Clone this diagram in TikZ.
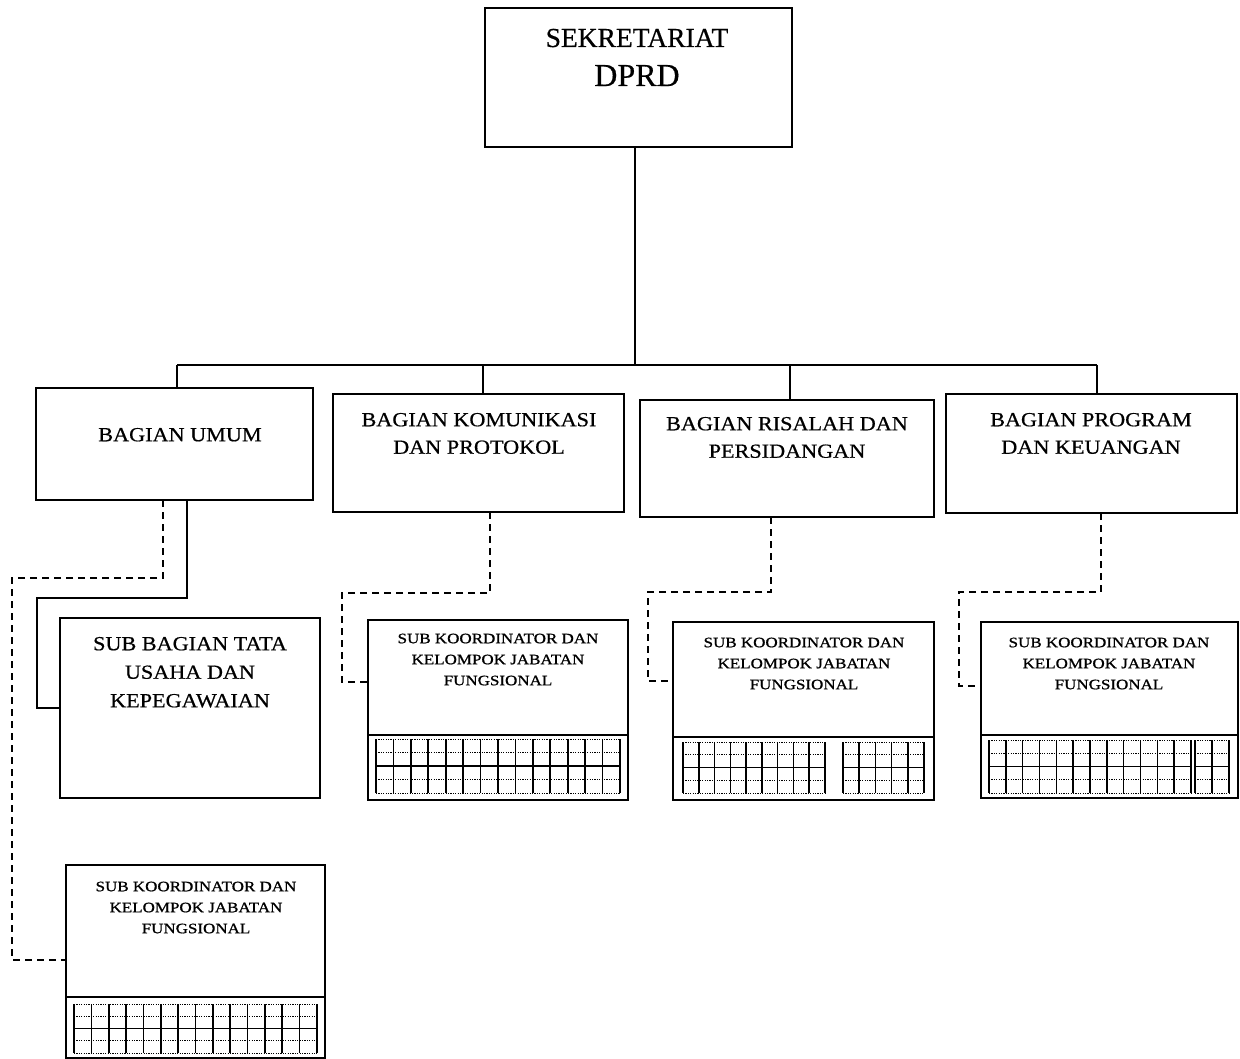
\documentclass[tikz,border=0pt]{standalone}
\usepackage{fontspec}
\setmainfont{Liberation Serif}
\newfontfamily\tfont[FakeBold=0.5]{Liberation Serif}
\newfontfamily\bfont[FakeStretch=1.11,FakeBold=0.6]{Liberation Serif}
\newfontfamily\kfont[FakeStretch=1.18,FakeBold=0.9]{Liberation Serif}
\usetikzlibrary{calc}
\newcommand{\kgrid}[5]{%
  \draw[gridh] (#1,#2) -- (#3,#2);
  \draw[gridh] (#1,#4) -- (#3,#4);
  \draw[gridh] (#1,{#2+0.25*(#4-#2)}) -- (#3,{#2+0.25*(#4-#2)});
  \draw[gridm] (#1,{#2+0.5*(#4-#2)}) -- (#3,{#2+0.5*(#4-#2)});
  \draw[gridh] (#1,{#2+0.75*(#4-#2)}) -- (#3,{#2+0.75*(#4-#2)});
  \foreach \i in {0,...,#5}{\draw[gridv] ({#1+\i*(#3-#1)/#5},#2) -- ({#1+\i*(#3-#1)/#5},#4);}
}
\tikzset{
  box/.style={draw, rectangle, line width=1.8pt, inner sep=0pt, outer sep=0pt},
  conn/.style={line width=1.5pt},
  dsh/.style={line width=1.6pt, dash pattern=on 7pt off 5pt},
  gridh/.style={line width=0.9pt, dash pattern=on 1.2pt off 1.2pt},
  gridm/.style={line width=1.2pt},
  gridv/.style={line width=1.6pt},
  btext/.style={font=\bfont\fontsize{20}{27.5}\selectfont, align=center, inner sep=0pt, anchor=north},
  stext/.style={font=\bfont\fontsize{20}{28.5}\selectfont, align=center, inner sep=0pt, anchor=north},
  ktext/.style={font=\kfont\fontsize{14.4}{21}\selectfont, align=center, inner sep=0pt, anchor=north},
}
\begin{document}
\begin{tikzpicture}[x=1pt,y=-1pt]
\useasboundingbox (0,0) rectangle (1240,1059);
\fill[white] (0,0) rectangle (1240,1059);

% top box
\node[box, minimum width=307pt, minimum height=139pt] (T) at (638.5,77.5) {};
\node[anchor=base, inner sep=0pt, font=\tfont\fontsize{27.5}{30}\selectfont] (Tt1) at (637,47) {SEKRETARIAT};
\node[anchor=base, inner sep=0pt, font=\tfont\fontsize{32}{34}\selectfont] (Tt2) at (637,86) {DPRD};

% second level boxes
\node[box, minimum width=277pt, minimum height=112pt] (b1) at (174.5,444) {};
\node[box, minimum width=291pt, minimum height=118pt] (b2) at (478.5,453) {};
\node[box, minimum width=294pt, minimum height=117pt] (b3) at (787,458.5) {};
\node[box, minimum width=291pt, minimum height=119pt] (b4) at (1091.5,453.5) {};
\node[btext] (b1t) at (180,427.8) {BAGIAN UMUM};
\node[btext] (b2t) at (479,412.8) {BAGIAN KOMUNIKASI\\DAN PROTOKOL};
\node[btext] (b3t) at (787,416.8) {BAGIAN RISALAH DAN\\PERSIDANGAN};
\node[btext] (b4t) at (1091,412.8) {BAGIAN PROGRAM\\DAN KEUANGAN};

% tree connectors
\coordinate (j0) at (635,365);
\coordinate (j1) at (177,365);
\coordinate (j2) at (483,365);
\coordinate (j3) at (790,365);
\coordinate (j4) at (1097,365);
\draw[conn] (T.south -| j0) -- (j0);
\draw[conn] (j1) -- (j4);
\draw[conn] (j1) -- (j1 |- b1.north);
\draw[conn] (j2) -- (j2 |- b2.north);
\draw[conn] (j3) -- (j3 |- b3.north);
\draw[conn] (j4) -- (j4 |- b4.north);

% sub bagian
\node[box, minimum width=260pt, minimum height=180pt] (s0) at (190,708) {};
\node[stext] (s0t) at (190,636.8) {SUB BAGIAN TATA\\USAHA DAN\\KEPEGAWAIAN};

% sub koordinator boxes
\node[box, minimum width=259pt, minimum height=193pt] (k1) at (195.5,961.5) {};
\node[box, minimum width=260pt, minimum height=180pt] (k2) at (498,710) {};
\node[box, minimum width=261pt, minimum height=178pt] (k3) at (803.5,711) {};
\node[box, minimum width=257pt, minimum height=176pt] (k4) at (1109.5,710) {};
\node[ktext] (k1t) at (196,881.5) {SUB KOORDINATOR DAN\\KELOMPOK JABATAN\\FUNGSIONAL};
\node[ktext] (k2t) at (498,633.5) {SUB KOORDINATOR DAN\\KELOMPOK JABATAN\\FUNGSIONAL};
\node[ktext] (k3t) at (804,637.5) {SUB KOORDINATOR DAN\\KELOMPOK JABATAN\\FUNGSIONAL};
\node[ktext] (k4t) at (1109,637.5) {SUB KOORDINATOR DAN\\KELOMPOK JABATAN\\FUNGSIONAL};

% dividers
\path (k1.north west) ++(0,132) coordinate (k1d);
\path (k2.north west) ++(0,115) coordinate (k2d);
\path (k3.north west) ++(0,115) coordinate (k3d);
\path (k4.north west) ++(0,113) coordinate (k4d);
\draw[line width=1.8pt] (k1d) -- (k1d -| k1.east);
\draw[line width=1.8pt] (k2d) -- (k2d -| k2.east);
\draw[line width=1.8pt] (k3d) -- (k3d -| k3.east);
\draw[line width=1.8pt] (k4d) -- (k4d -| k4.east);

% grids
\kgrid{74}{1004}{317}{1053}{14}
\kgrid{376}{739}{620}{793}{14}
\kgrid{683}{742}{825}{793}{9}
\kgrid{843}{742}{924}{793}{5}
\kgrid{989}{740}{1191}{793}{12}
\kgrid{1195}{740}{1229}{793}{2}

% connectors from Bagian Umum
\coordinate (s1a) at (187,598);
\coordinate (s1b) at (37,708);
\draw[conn] (b1.south -| s1a) -- (s1a) -| (s1b) -- (s0.west |- s1b);
\coordinate (d1a) at (163,578);
\coordinate (d1b) at (12,960);
\draw[dsh] (b1.south -| d1a) -- (d1a) -| (d1b) -- (k1.west |- d1b);

% dashed connectors to sub koordinator
\coordinate (d2a) at (490,593);
\coordinate (d2b) at (342,682);
\draw[dsh] (b2.south -| d2a) -- (d2a) -| (d2b) -- (k2.west |- d2b);
\coordinate (d3a) at (771,592);
\coordinate (d3b) at (648,681);
\draw[dsh] (b3.south -| d3a) -- (d3a) -| (d3b) -- (k3.west |- d3b);
\coordinate (d4a) at (1101,592);
\coordinate (d4b) at (959,686);
\draw[dsh] (b4.south -| d4a) -- (d4a) -| (d4b) -- (k4.west |- d4b);
\end{tikzpicture}
\end{document}
